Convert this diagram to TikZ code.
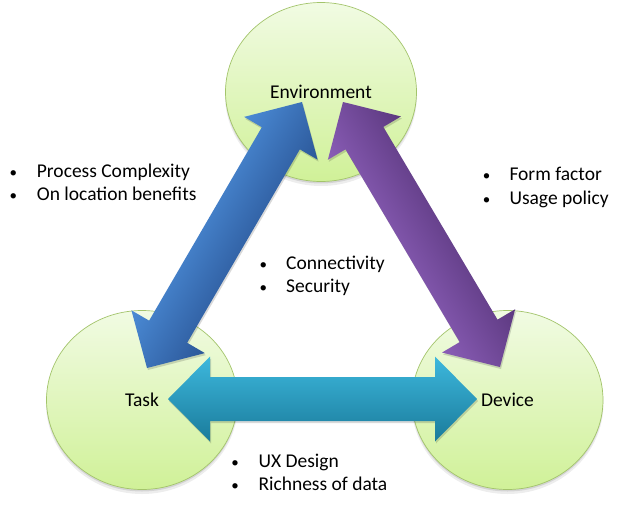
\documentclass[tikz,border=0pt]{standalone}
\usepackage{fontspec}
\setmainfont{Carlito}
\usetikzlibrary{calc,shapes.geometric}
\definecolor{circtop}{HTML}{F1FBE3}
\definecolor{circbot}{HTML}{D0F198}
\definecolor{circborder}{HTML}{A3C46B}
\definecolor{blueL}{HTML}{4C8DD8}
\definecolor{blueD}{HTML}{2A5596}
\definecolor{purL}{HTML}{8C5FB9}
\definecolor{purD}{HTML}{5A377D}
\definecolor{cyanL}{HTML}{3DB8DD}
\definecolor{cyanD}{HTML}{1A7B9B}
\newcommand\mainsize{\fontsize{19.5}{23}\selectfont}
\newcommand\bulsize{\fontsize{15}{18}\selectfont}
% double-headed block arrow between two named tips
\newcommand\arrowpath[2]{(#1)
 -- ($(#1)!42pt!(#2)!42.5pt!90:(#2)$)
 -- ($(#1)!42pt!(#2)!22pt!90:(#2)$)
 -- ($(#2)!42pt!(#1)!22pt!-90:(#1)$)
 -- ($(#2)!42pt!(#1)!42.5pt!-90:(#1)$)
 -- (#2)
 -- ($(#2)!42pt!(#1)!42.5pt!90:(#1)$)
 -- ($(#2)!42pt!(#1)!22pt!90:(#1)$)
 -- ($(#1)!42pt!(#2)!22pt!-90:(#2)$)
 -- ($(#1)!42pt!(#2)!42.5pt!-90:(#2)$)
 -- cycle}
\newcommand\bulletline[5]{%
 \node[bul] (#1b) at (#2,#4) {•};
 \node[txt] (#1t) at (#3,#4) {#5};}
\begin{document}
\begin{tikzpicture}[x=1pt,y=-1pt,
 circ/.style={ellipse, minimum width=191pt, minimum height=179pt, inner sep=0pt,
   draw=circborder, line width=0.7pt, top color=circtop, bottom color=circbot, font=\mainsize},
 txt/.style={inner sep=0pt, anchor=base west, font=\mainsize},
 bul/.style={inner sep=0pt, anchor=base, font=\bulsize},
 shadowA/.style={fill=black, opacity=0.07},
 shadowB/.style={fill=black, opacity=0.10},
 arrowshadow/.style={fill=black, opacity=0.15}]
\useasboundingbox (0,0) rectangle (640,525);
\fill[white] (0,0) rectangle (640,525);

% centres
\coordinate (envC) at (321,92);
\coordinate (taskC) at (142,400);
\coordinate (devC) at (507.5,400);

% soft shadows of the circles
\foreach \c in {envC,taskC,devC}{
  \fill[shadowA] ($(\c)+(0,3.5)$) ellipse [x radius=96, y radius=90.5];
  \fill[shadowB] ($(\c)+(0,2)$) ellipse [x radius=95.5, y radius=89.5];
}

% circles
\node[circ] (env) at (envC) {Environment};
\node[circ] (task) at (taskC) {Task};
\node[circ] (dev) at (devC) {Device};

% arrow tips
\coordinate (bA) at (147,368);
\coordinate (bB) at (302,102);
\coordinate (bM) at ($(bA)!.5!(bB)$);
\coordinate (pA) at (343,102);
\coordinate (pB) at (500,367);
\coordinate (pM) at ($(pA)!.5!(pB)$);
\coordinate (cA) at (168,399);
\coordinate (cB) at (477,399);

% shadows of arrows
\fill[arrowshadow, transform canvas={shift={(1pt,-2pt)}}] \arrowpath{bA}{bB};
\fill[arrowshadow, transform canvas={shift={(1pt,-2pt)}}] \arrowpath{pA}{pB};
\fill[arrowshadow, transform canvas={shift={(1pt,-2pt)}}] \arrowpath{cA}{cB};

% blue arrow Task <-> Environment
\begin{scope}
  \clip \arrowpath{bA}{bB};
  \shade[top color=blueL, bottom color=blueD, transform canvas={shift={(bM)}, rotate=59.77}]
    (-220,-46) rectangle (220,46);
\end{scope}

% purple arrow Environment <-> Device
\begin{scope}
  \clip \arrowpath{pA}{pB};
  \shade[top color=purD, bottom color=purL, transform canvas={shift={(pM)}, rotate=-59.36}]
    (-220,-46) rectangle (220,46);
\end{scope}

% cyan arrow Task <-> Device
\shade[top color=cyanL, bottom color=cyanD] \arrowpath{cA}{cB};

% bullet lists
\bulletline{la}{13.3}{36.7}{177}{Process Complexity}
\bulletline{lb}{13.3}{36.7}{200.7}{On location benefits}
\bulletline{ra}{486.7}{509.3}{180.7}{Form factor}
\bulletline{rb}{486.7}{509.3}{204.5}{Usage policy}
\bulletline{ma}{263.3}{286}{269}{Connectivity}
\bulletline{mb}{263.3}{286}{292}{Security}
\bulletline{ba}{235}{258.3}{467}{UX Design}
\bulletline{bb}{235}{258.3}{490.7}{Richness of data}
\end{tikzpicture}
\end{document}
